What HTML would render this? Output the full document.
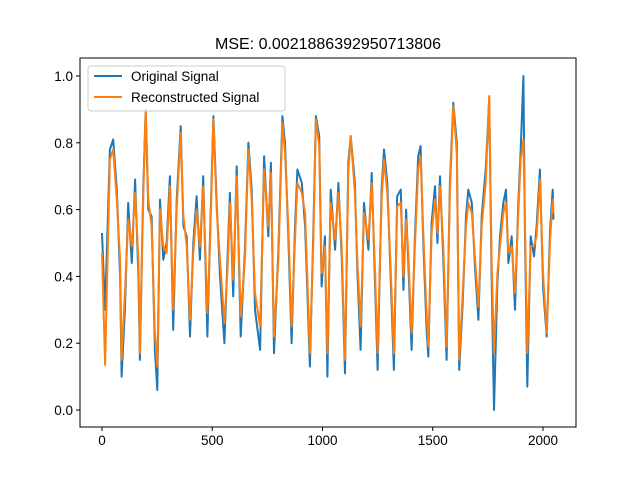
<!DOCTYPE html>
<html><head><meta charset="utf-8"><style>
html,body{margin:0;padding:0;background:#fff;}
svg{display:block;font-family:"Liberation Sans","DejaVu Sans",sans-serif;}
</style></head><body>
<svg id="chart" width="640" height="480" viewBox="0 0 640 480">
<rect x="0" y="0" width="640" height="480" fill="#fff"/>
<text x="328" y="49" font-size="16" text-anchor="middle" fill="#000">MSE: 0.0021886392950713806</text>
<g id="plot"></g>
<rect x="80" y="58" width="496" height="369" fill="none" stroke="#000" stroke-width="1"/>
<g id="axes"></g>
<g>
<rect x="88" y="66" width="197" height="45" rx="3" fill="#fff" fill-opacity="0.8" stroke="#ccc"/>
<line x1="94" y1="76" x2="122" y2="76" stroke="#1f77b4" stroke-width="2"/>
<text x="131" y="81" font-size="13.5" fill="#000">Original Signal</text>
<line x1="94" y1="97" x2="122" y2="97" stroke="#ff7f0e" stroke-width="2"/>
<text x="131" y="102" font-size="13.5" fill="#000">Reconstructed Signal</text>
</g>
</svg>
<script>
const sampleIndex=[0,14,36,51,67,82,89,104,119,135,150,165,172,187,198,210,225,240,251,263,278,293,308,323,339,357,369,384,399,414,429,444,459,478,490,505,520,535,555,570,580,595,611,629,648,664,679,694,717,735,754,766,780,800,818,830,845,860,875,886,906,921,943,958,970,985,996,1011,1022,1037,1057,1072,1087,1102,1117,1128,1147,1158,1173,1188,1208,1223,1238,1250,1268,1279,1294,1309,1324,1339,1355,1367,1379,1389,1404,1419,1434,1445,1457,1472,1480,1495,1510,1521,1533,1548,1563,1578,1593,1609,1620,1636,1651,1661,1677,1692,1707,1722,1740,1756,1767,1778,1793,1805,1820,1832,1843,1858,1873,1888,1899,1911,1918,1929,1944,1959,1971,1986,2001,2017,2032,2044,2047];
const reconstructedValues=[0.47,0.135,0.75,0.78,0.63,0.45,0.15,0.35,0.57,0.49,0.65,0.45,0.17,0.63,0.90,0.63,0.55,0.23,0.13,0.60,0.49,0.47,0.67,0.30,0.60,0.83,0.58,0.49,0.27,0.47,0.60,0.49,0.67,0.29,0.49,0.87,0.60,0.45,0.26,0.43,0.62,0.39,0.70,0.28,0.45,0.78,0.63,0.35,0.25,0.72,0.55,0.71,0.22,0.45,0.86,0.77,0.55,0.25,0.50,0.68,0.65,0.59,0.17,0.49,0.87,0.79,0.41,0.49,0.17,0.62,0.51,0.65,0.49,0.15,0.71,0.82,0.65,0.45,0.25,0.59,0.51,0.68,0.42,0.17,0.63,0.75,0.65,0.43,0.17,0.61,0.62,0.40,0.57,0.47,0.23,0.49,0.72,0.76,0.53,0.29,0.19,0.53,0.63,0.53,0.67,0.49,0.19,0.65,0.91,0.77,0.15,0.35,0.55,0.62,0.59,0.45,0.31,0.55,0.68,0.94,0.45,0.17,0.41,0.49,0.59,0.62,0.47,0.49,0.35,0.59,0.75,0.81,0.57,0.17,0.49,0.49,0.52,0.69,0.40,0.23,0.51,0.63,0.59];
const originalValues=[0.53,0.30,0.78,0.81,0.66,0.40,0.10,0.30,0.62,0.44,0.69,0.40,0.15,0.66,0.90,0.60,0.58,0.18,0.06,0.63,0.45,0.50,0.70,0.24,0.63,0.85,0.55,0.52,0.22,0.50,0.64,0.45,0.70,0.22,0.52,0.88,0.62,0.40,0.20,0.47,0.65,0.34,0.73,0.22,0.48,0.80,0.66,0.30,0.18,0.76,0.52,0.74,0.17,0.48,0.88,0.80,0.52,0.20,0.54,0.72,0.68,0.55,0.13,0.52,0.88,0.82,0.37,0.52,0.10,0.66,0.48,0.68,0.46,0.11,0.74,0.82,0.68,0.42,0.18,0.62,0.48,0.71,0.38,0.12,0.66,0.78,0.68,0.40,0.12,0.64,0.66,0.36,0.60,0.44,0.18,0.52,0.76,0.79,0.50,0.24,0.16,0.56,0.67,0.50,0.70,0.45,0.15,0.68,0.92,0.80,0.12,0.32,0.58,0.66,0.62,0.42,0.27,0.58,0.72,0.93,0.40,0.00,0.38,0.52,0.62,0.66,0.44,0.52,0.30,0.62,0.78,1.00,0.54,0.07,0.52,0.46,0.55,0.72,0.36,0.22,0.54,0.66,0.57];
const xTicks=[0,500,1000,1500,2000];
const yTicks=[0.0,0.2,0.4,0.6,0.8,1.0];
const yTickLabels=["0.0","0.2","0.4","0.6","0.8","1.0"];

const NS='http://www.w3.org/2000/svg';
function xs(i){return 102+i*0.2205;}
function ys(v){return 410-v*334;}
const plot=document.getElementById('plot');
const axes=document.getElementById('axes');
function series(vals,color,name){
  const p=document.createElementNS(NS,'polyline');
  p.setAttribute('points',sampleIndex.map((d,k)=>xs(d).toFixed(1)+','+ys(vals[k]).toFixed(1)).join(' '));
  p.setAttribute('fill','none');p.setAttribute('stroke',color);p.setAttribute('stroke-width','2');
  p.setAttribute('stroke-linejoin','round');
  
  
  plot.appendChild(p);
}
series(originalValues,'#1f77b4','original-signal-line');
series(reconstructedValues,'#ff7f0e','reconstructed-signal-line');
xTicks.forEach(t=>{
  const x=xs(t);
  const l=document.createElementNS(NS,'line');
  l.setAttribute('x1',x);l.setAttribute('x2',x);l.setAttribute('y1',427);l.setAttribute('y2',431);l.setAttribute('stroke','#000');
  
  
  axes.appendChild(l);
  const tx=document.createElementNS(NS,'text');
  tx.setAttribute('x',x);tx.setAttribute('y',445);tx.setAttribute('font-size','13.5');tx.setAttribute('text-anchor','middle');
  tx.textContent=String(t);
  
  
  axes.appendChild(tx);
});
yTicks.forEach((t,k)=>{
  const y=ys(t);
  const l=document.createElementNS(NS,'line');
  l.setAttribute('x1',76);l.setAttribute('x2',80);l.setAttribute('y1',y);l.setAttribute('y2',y);l.setAttribute('stroke','#000');
  
  
  axes.appendChild(l);
  const tx=document.createElementNS(NS,'text');
  tx.setAttribute('x',73);tx.setAttribute('y',y+5);tx.setAttribute('font-size','13.5');tx.setAttribute('text-anchor','end');
  tx.textContent=yTickLabels[k];
  
  
  axes.appendChild(tx);
});
</script>
</body></html>
